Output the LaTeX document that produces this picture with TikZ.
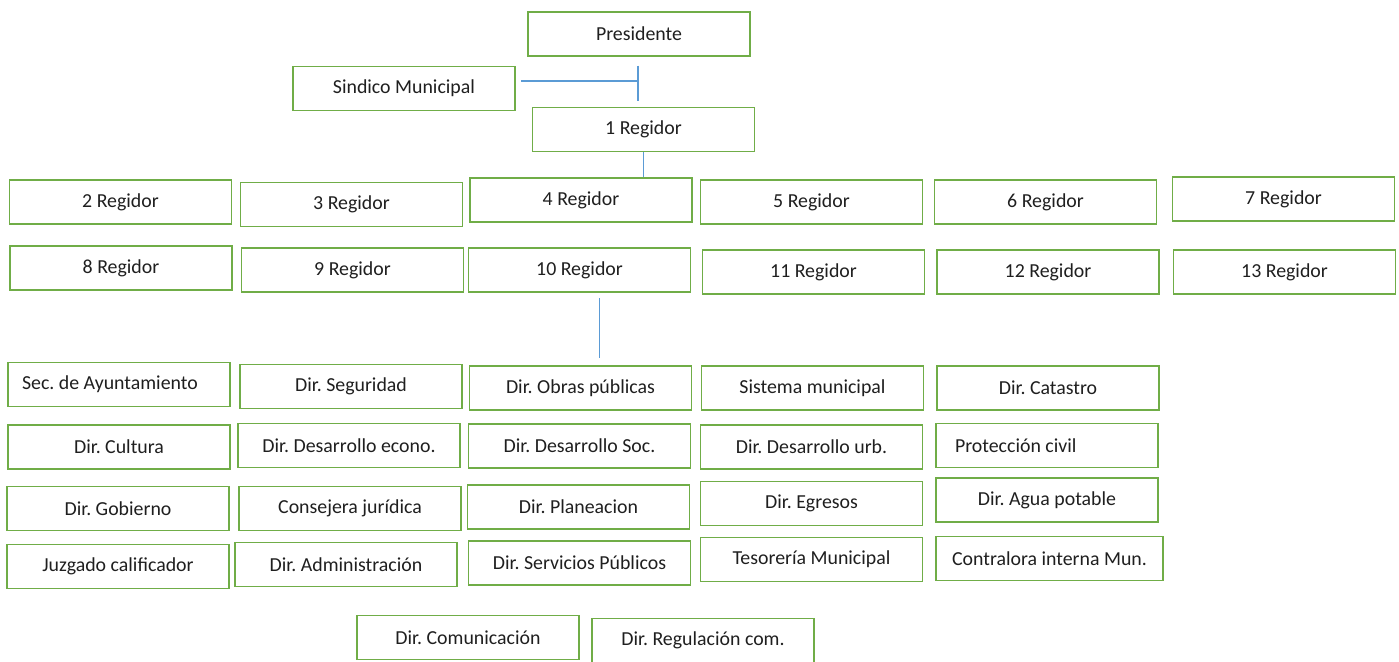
\documentclass[tikz,border=0pt]{standalone}
\usepackage{fontspec}
\setmainfont{Carlito}
\usepackage{tikz}
\definecolor{boxGreen}{RGB}{112, 173, 71}
\definecolor{lineBlue}{RGB}{91, 155, 213}
\frenchspacing

\begin{document}
\begin{tikzpicture}[x=0.02cm, y=-0.02cm,
    cargo/.style={draw=boxGreen, line width=0.9pt, minimum width=4.44cm, minimum height=0.88cm,
      inner sep=0pt, font=\fontsize{11.3}{13.5}\selectfont, text=black!88},
    enlace/.style={draw=lineBlue, line width=0.7pt}]
        \useasboundingbox (0,0) rectangle (1399,662);
        \node[cargo] (presidente) at (639,34) {Presidente};
        \node[cargo] (sindico) at (404,88.5) {Sindico Municipal};
        \node[cargo] (reg1) at (643.5,129.5) {1 Regidor};
        \node[cargo] (reg2) at (120.5,202) {2 Regidor};
        \node[cargo] (reg3) at (351.5,204.5) {3 Regidor};
        \node[cargo] (reg4) at (581,200) {4 Regidor};
        \node[cargo] (reg5) at (811.5,202) {5 Regidor};
        \node[cargo] (reg6) at (1045.5,202) {6 Regidor};
        \node[cargo] (reg7) at (1283.5,199) {7 Regidor};
        \node[cargo] (reg8) at (121,268) {8 Regidor};
        \node[cargo] (reg9) at (352.5,270) {9 Regidor};
        \node[cargo] (reg10) at (579.5,270) {10 Regidor};
        \node[cargo] (reg11) at (813.5,272) {11 Regidor};
        \node[cargo] (reg12) at (1048,272) {12 Regidor};
        \node[cargo] (reg13) at (1284.5,272) {13 Regidor};
        \node[cargo] (secayun) at (119,384.5) {\makebox[3.88cm][l]{Sec. de Ayuntamiento}};
        \node[cargo] (cultura) at (119,447) {Dir. Cultura};
        \node[cargo] (gobierno) at (118,508.5) {Dir. Gobierno};
        \node[cargo] (juzgado) at (118,566.5) {Juzgado calificador};
        \node[cargo] (seguridad) at (351,386.5) {Dir. Seguridad};
        \node[cargo] (deseco) at (349,445.5) {Dir. Desarrollo econo.};
        \node[cargo] (consejera) at (350,508.5) {Consejera jurídica};
        \node[cargo] (admin) at (346,564.5) {Dir. Administración};
        \node[cargo] (obras) at (580.5,388) {Dir. Obras públicas};
        \node[cargo] (dessoc) at (579.5,446) {Dir. Desarrollo Soc.};
        \node[cargo] (planea) at (578.5,507) {Dir. Planeacion};
        \node[cargo] (servicios) at (579.5,563) {Dir. Servicios Públicos};
        \node[cargo] (sistema) at (812.5,388) {Sistema municipal};
        \node[cargo] (desurb) at (811.5,447) {Dir. Desarrollo urb.};
        \node[cargo] (egresos) at (811.5,503.5) {Dir. Egresos};
        \node[cargo] (tesoreria) at (811.5,559.5) {Tesorería Municipal};
        \node[cargo] (catastro) at (1048,388) {Dir. Catastro};
        \node[cargo] (proteccion) at (1047,445.5) {\makebox[3.68cm][l]{Protección civil}};
        \node[cargo] (agua) at (1047,500) {Dir. Agua potable};
        \node[cargo, minimum width=4.54cm] (contralora) at (1049.5,558.5) {Contralora interna Mun.};
        \node[cargo] (comunic) at (468,637.5) {Dir. Comunicación};
        \node[cargo] (regul) at (703,640.5) {Dir. Regulación com.};
        \coordinate (junta) at (638,81);
        \draw[enlace] ([yshift=-5pt]presidente.south -| junta) -- ([yshift=3pt]reg1.north -| junta);
        \draw[enlace] ([xshift=3pt]sindico.east |- junta) -- (junta);
        \draw[enlace] (reg1.south) -- (reg1.south |- reg4.north);
        \draw[enlace] ([xshift=0.4cm, yshift=-3pt]reg10.south) -- ([xshift=0.4cm, yshift=4pt]reg10.south |- obras.north);
      \end{tikzpicture}
\end{document}
